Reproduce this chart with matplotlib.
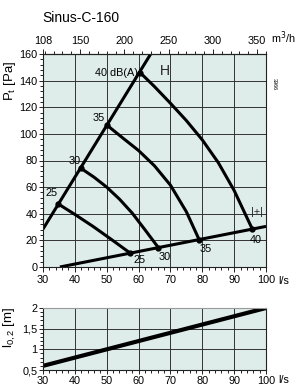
import numpy as np
import matplotlib
matplotlib.use('Agg')
import matplotlib.pyplot as plt
from matplotlib.ticker import MultipleLocator, FixedLocator, FuncFormatter

plt.rcParams['font.family'] = ['Liberation Sans', 'DejaVu Sans']

# --- data ---
# upper system line (damper open) and lower system line (damper closed)
upper_q = [30, 63.8]
upper_p = [28.5, 160]
lower_q = [35.3, 100]
lower_p = [0, 30.5]

# sound level curves, dB(A)
db_levels = [25, 30, 35, 40]
curve_q = {
    25: [34.7, 40, 45.7, 51, 57.4],
    30: [42, 46, 50, 54, 58, 62, 66.2],
    35: [50.1, 55, 60, 65, 70, 75, 79],
    40: [60.5, 65, 70, 75, 80, 85, 90, 95.7],
}
curve_p = {
    25: [47.5, 39.5, 30.5, 21.5, 10.4],
    30: [74, 67.5, 60, 51, 40.5, 28, 14.6],
    35: [106.5, 97, 87.5, 76, 61.5, 41.5, 20.6],
    40: [146, 135.5, 123, 110, 95.5, 78.5, 57.5, 28.5],
}

# throw length l0,2
throw_q = [30, 100]
throw_l = [0.6, 2.0]

bg = '#deedea'
gridc = '#333333'
fs = 7.8

fig = plt.figure(figsize=(2.97, 3.87), dpi=100)
ax = fig.add_axes([43/297, 1-267/387, 223/297, 213/387])
ax2 = fig.add_axes([43/297, 1-370/387, 223/297, 62/387])

for a in (ax, ax2):
    a.set_facecolor(bg)
    a.set_xlim(30, 100)
    a.xaxis.set_major_locator(MultipleLocator(10))
    a.xaxis.set_minor_locator(MultipleLocator(2))
    a.grid(True, which='major', color=gridc, lw=0.7)
    a.set_axisbelow(True)
    a.tick_params(which='both', labelsize=fs, direction='out', color='#222', width=0.7, pad=2)
    a.tick_params(which='major', length=3.5)
    a.tick_params(which='minor', length=2)
    a.tick_params(axis='y', which='major', length=3, pad=1)
    for s in a.spines.values():
        s.set_color('#222')
        s.set_linewidth(0.8)

# main chart
ax.set_ylim(0, 160)
ax.yaxis.set_major_locator(MultipleLocator(20))
ax.yaxis.set_minor_locator(MultipleLocator(4))

ax.plot(upper_q, upper_p, color='black', lw=2.2, solid_capstyle='butt')
ax.plot(lower_q, lower_p, color='black', lw=2.2, solid_capstyle='butt')
for db in db_levels:
    q = curve_q[db]
    p = curve_p[db]
    ax.plot(q, p, color='black', lw=2.2, solid_joinstyle='round')
    ax.plot([q[0], q[-1]], [p[0], p[-1]], 'o', color='black', ms=3.5)

# labels along the curves
ax.annotate('40 dB(A)', (curve_q[40][0], curve_p[40][0]), xytext=(-1.5, 0),
            textcoords='offset points', ha='right', va='center', fontsize=fs)
for db, dx, dy in [(35, -6, 5.5), (30, -5, 5.5), (25, -4.7, 8)]:
    ax.annotate(str(db), (curve_q[db][0], curve_p[db][0]), xytext=(dx, dy),
                textcoords='offset points', ha='center', va='center', fontsize=fs)
for db, dx, dy in [(25, 6.5, -5), (30, 4.3, -7), (35, 5, -6.5), (40, 2.5, -8)]:
    ax.annotate(str(db), (curve_q[db][-1], curve_p[db][-1]), xytext=(dx, dy),
                textcoords='offset points', ha='center', va='center', fontsize=fs)

ax.text(68.4, 147, 'H', fontsize=10, ha='center', va='center', color='#222')
ax.text(97.3, 41, '|+|', fontsize=fs, ha='center', va='center', color='#222')

ax.set_ylabel('P$_\\mathregular{t}$ [Pa]', fontsize=9.5)
ax.yaxis.set_label_coords(-0.11, 0.875)

# top axis in m3/h
sec = ax.secondary_xaxis('top', functions=(lambda q: q*3.6, lambda m: m/3.6))
sec.xaxis.set_major_locator(FixedLocator([108, 150, 200, 250, 300, 350]))
sec.xaxis.set_minor_locator(FixedLocator(np.arange(110, 361, 10)))
sec.tick_params(which='both', labelsize=fs, direction='out', color='#222', width=0.7)
sec.tick_params(which='major', length=3.5, pad=2)
sec.tick_params(which='minor', length=2)

# throw chart
ax2.set_ylim(0.5, 2)
ax2.yaxis.set_major_locator(MultipleLocator(0.5))
ax2.yaxis.set_minor_locator(MultipleLocator(0.1))
ax2.yaxis.set_major_formatter(FuncFormatter(lambda v, pos: ('%g' % v).replace('.', ',')))
ax2.tick_params(axis='x', which='major', length=3, pad=1)
ax2.plot(throw_q, throw_l, color='black', lw=3, solid_capstyle='butt')
ax2.spines['top'].set_color('#9a9a9a')
ax2.set_ylabel('l$_\\mathregular{0,2}$ [m]', fontsize=9.5)
ax2.yaxis.set_label_coords(-0.11, 0.69)

fig.text(42/297, 1-18/387, 'Sinus-C-160', fontsize=10, ha='left', va='center')
fig.text(271/297, 1-38/387, 'm$^3$/h', fontsize=fs, ha='left', va='center')
fig.text(278/297, 1-281/387, 'l/s', fontsize=fs, ha='left', va='center')
fig.text(278/297, 1-380/387, 'l/s', fontsize=fs, ha='left', va='center')
fig.text(274/297, 1-84/387, '3966', fontsize=4, rotation=-90, ha='center', va='center')

fig.savefig('out.png', dpi=100)
